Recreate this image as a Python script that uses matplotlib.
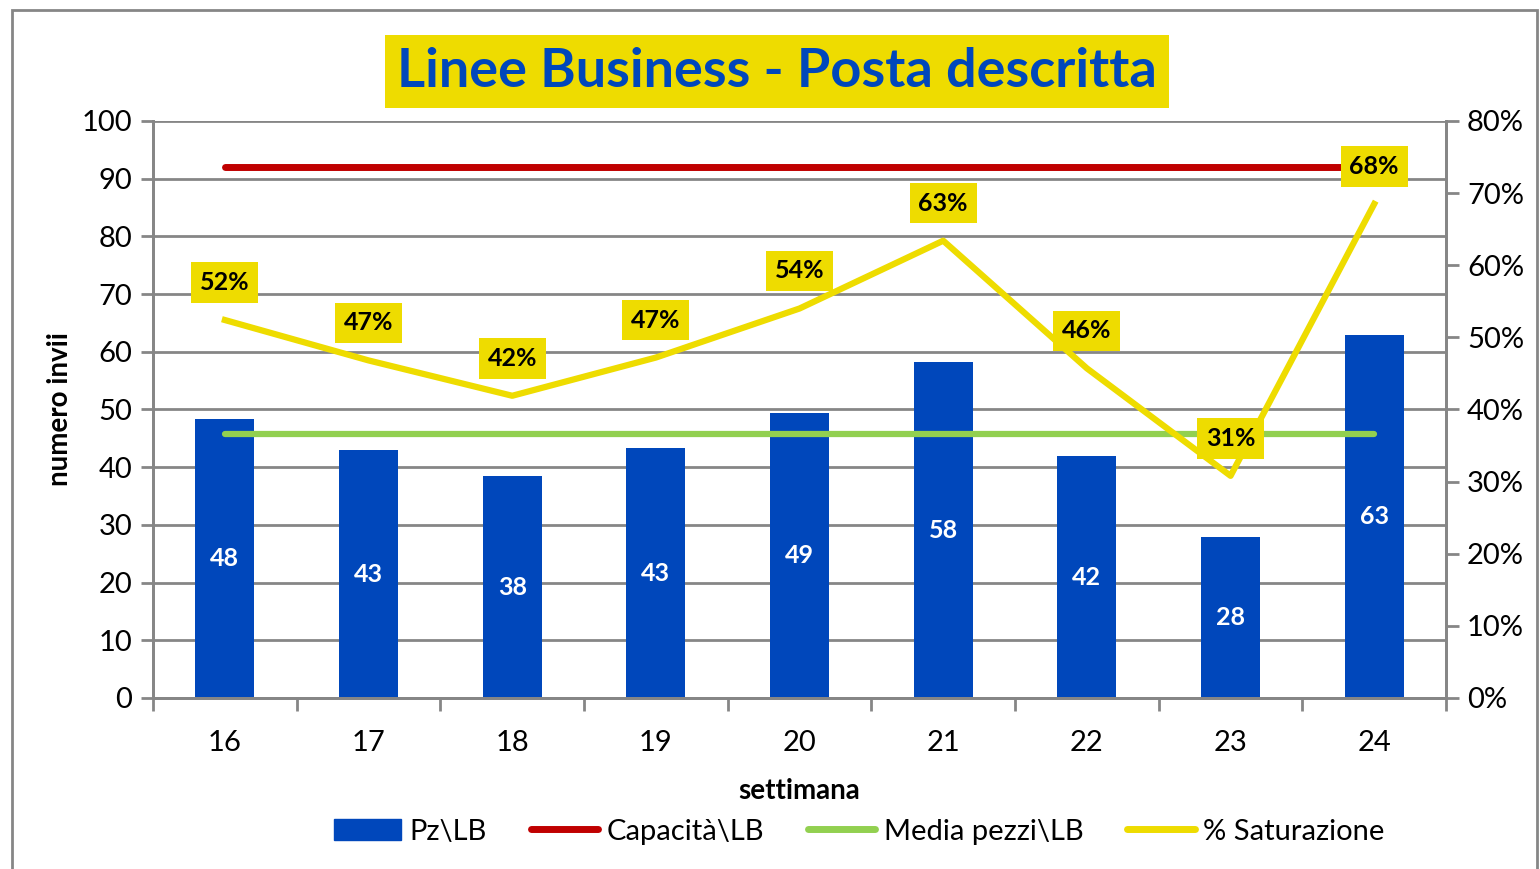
import matplotlib
matplotlib.use('Agg')
import matplotlib.pyplot as plt
from matplotlib.lines import Line2D
from matplotlib.patches import Patch, Rectangle

plt.rcParams['font.family'] = ['Lato', 'DejaVu Sans']

# dati
settimane = ['16', '17', '18', '19', '20', '21', '22', '23', '24']
pezzi = [48.4, 42.9, 38.4, 43.3, 49.4, 58.2, 41.9, 27.9, 62.9]
capacita = [92] * 9
media = [45.8] * 9
saturazione = [0.524, 0.468, 0.419, 0.472, 0.540, 0.634, 0.457, 0.308, 0.685]

BLU = '#0047BB'
ROSSO = '#C00000'
VERDE = '#92D050'
GIALLO = '#EEDC00'
GRIGIO = '#868686'

fig = plt.figure(figsize=(15.4, 8.69), dpi=100)
ax = fig.add_axes([0.0994, 0.1968, 0.8396, 0.664])
ax2 = ax.twinx()

x = list(range(len(settimane)))

ax.bar(x, pezzi, width=0.41, color=BLU, zorder=2)
for xi, v in zip(x, pezzi):
    ax.text(xi, v / 2, '%.0f' % v, color='white', fontsize=18, fontweight='bold',
            ha='center', va='center', zorder=3)

ax.plot(x, capacita, color=ROSSO, lw=5, solid_capstyle='round', zorder=4)
ax.plot(x, media, color=VERDE, lw=4.5, solid_capstyle='round', zorder=4)

ax.set_xlim(-0.5, 8.5)
ax.set_ylim(0, 100)
ax.set_yticks(range(0, 101, 10))
ax.set_xticks(x)
ax.set_xticklabels(settimane)
ax.set_xticks([i + 0.5 for i in range(-1, 9)], minor=True)
ax.tick_params(axis='x', which='major', length=0, labelsize=21, pad=23)
ax.tick_params(axis='x', which='minor', length=9, width=2, color=GRIGIO, direction='out')
ax.tick_params(axis='y', length=9, width=2, color=GRIGIO, labelsize=21, pad=6)
ax.grid(axis='y', color=GRIGIO, lw=2, zorder=0)
ax.set_axisbelow(True)
for s in ax.spines.values():
    s.set_color(GRIGIO)
    s.set_linewidth(2)
ax.spines['top'].set_visible(False)

ax.set_xlabel('settimana', fontsize=20, fontweight='bold', labelpad=16)
ax.set_ylabel('numero invii', fontsize=20, fontweight='bold', labelpad=6)

# asse destro: saturazione
ax2.plot(x, saturazione, color=GIALLO, lw=4.5, zorder=5)
for xi, v in zip(x, saturazione):
    ax2.annotate('%d%%' % round(v * 100), (xi, v), xytext=(0, 27), textcoords='offset points',
                 ha='center', va='center', fontsize=18, fontweight='bold', color='black',
                 bbox=dict(boxstyle='square,pad=0.35', fc=GIALLO, ec='none'), zorder=6)
ax2.set_ylim(0, 0.8)
ax2.set_yticks([i / 10 for i in range(9)])
ax2.set_yticklabels(['%d%%' % (i * 10) for i in range(9)])
ax2.tick_params(axis='y', length=9, width=2, color=GRIGIO, labelsize=21, pad=6)
for s in ax2.spines.values():
    s.set_color(GRIGIO)
    s.set_linewidth(2)
ax2.spines['top'].set_visible(False)
ax2.set_zorder(ax.get_zorder() + 1)
ax2.patch.set_visible(False)

fig.text(0.5045, 0.918, 'Linee Business - Posta descritta', ha='center', va='center',
         fontsize=39, fontweight='bold', color=BLU,
         bbox=dict(boxstyle='square,pad=0.22', fc=GIALLO, ec='none'))

handles = [Patch(color=BLU),
           Line2D([], [], color=ROSSO, lw=5, solid_capstyle='round'),
           Line2D([], [], color=VERDE, lw=5, solid_capstyle='round'),
           Line2D([], [], color=GIALLO, lw=5, solid_capstyle='round')]
labels = ['Pz\\LB', 'Capacità\\LB', 'Media pezzi\\LB', '% Saturazione']
fig.legend(handles, labels, loc='center', bbox_to_anchor=(0.558, 0.043), ncol=4,
           frameon=False, fontsize=21, handlelength=2.3, handleheight=0.7,
           handletextpad=0.3, columnspacing=1.5)

fig.patches.append(Rectangle((12 / 1540, -0.01), 1525 / 1540, 0.998, transform=fig.transFigure,
                             fill=False, ec=GRIGIO, lw=2))

fig.savefig('out.png', dpi=100)
